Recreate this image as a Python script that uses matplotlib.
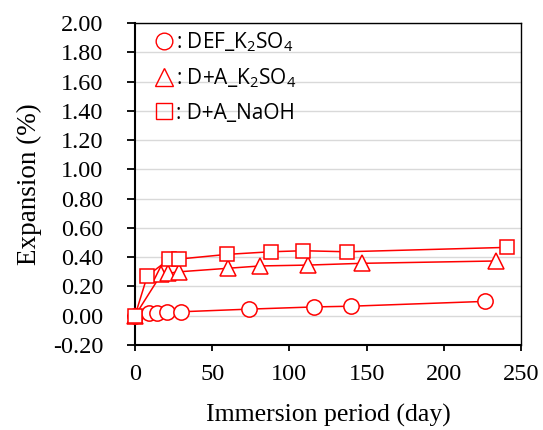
import matplotlib
matplotlib.use("Agg")
import matplotlib.pyplot as plt
from matplotlib.lines import Line2D

# Expansion measurements (%) versus immersion period (days)
days_def_k2so4 = [0, 9, 14, 21, 30, 74, 116, 140, 227]
exp_def_k2so4 = [0.00, 0.02, 0.02, 0.025, 0.027, 0.045, 0.06, 0.065, 0.098]

days_da_k2so4 = [0, 17, 21.5, 28.5, 60, 81, 112, 147, 234]
exp_da_k2so4 = [0.00, 0.283, 0.29, 0.30, 0.324, 0.34, 0.346, 0.358, 0.374]

days_da_naoh = [0, 8, 22, 28.5, 59.5, 88, 109, 137, 241]
exp_da_naoh = [0.00, 0.273, 0.385, 0.387, 0.419, 0.437, 0.444, 0.437, 0.467]

series_labels = [r": DEF_K$_2$SO$_4$", r": D+A_K$_2$SO$_4$", ": D+A_NaOH"]
y_ticks = [-0.2, 0.0, 0.2, 0.4, 0.6, 0.8, 1.0, 1.2, 1.4, 1.6, 1.8, 2.0]
x_ticks = [0, 50, 100, 150, 200, 250]

red = "#ff0000"
serif = ["Liberation Serif", "DejaVu Serif"]
plt.rcParams["mathtext.fontset"] = "custom"
plt.rcParams["mathtext.rm"] = "Open Sans"
plt.rcParams["mathtext.it"] = "Open Sans"

fig = plt.figure(figsize=(5.43, 4.30), dpi=100)
ax = fig.add_axes([0.2486, 0.1977, 0.7109, 0.7488])

style = dict(color=red, lw=1.1, mfc="white", mec=red, mew=1.1, clip_on=False)
ax.plot(days_def_k2so4, exp_def_k2so4, marker="o", ms=11, zorder=3, **style)
ax.plot(days_da_k2so4, exp_da_k2so4, marker="^", ms=11.5, zorder=3, **style)
ax.plot(days_da_naoh, exp_da_naoh, marker="s", ms=10, zorder=4, **style)

ax.set_xlim(0, 250)
ax.set_ylim(-0.2, 2.0)
ax.set_xticks(x_ticks)
ax.set_yticks(y_ticks)
ax.set_yticklabels([f"{v:.2f}" for v in y_ticks], fontfamily=serif, fontsize=17.5)
ax.set_xticklabels([str(v) for v in x_ticks], fontfamily=serif, fontsize=17.5)
ax.tick_params(axis="y", direction="out", length=6, width=1.3, pad=17)
ax.tick_params(axis="x", direction="out", length=4, width=1.3, pad=10)

ax.yaxis.grid(True, color="#d9d9d9", lw=1.0)
ax.set_axisbelow(True)
for side in ["left", "bottom"]:
    ax.spines[side].set_linewidth(1.5)
for side in ["top", "right"]:
    ax.spines[side].set_linewidth(1.0)

ax.set_xlabel("Immersion period (day)", fontfamily=serif, fontsize=18.5, labelpad=13)
ax.set_ylabel("Expansion (%)", fontfamily=serif, fontsize=19.5, labelpad=8)

handles = [
    Line2D([], [], ls="none", marker="o", ms=12, mfc="none", mec=red, mew=1.0),
    Line2D([], [], ls="none", marker="^", ms=12.5, mfc="none", mec=red, mew=1.0),
    Line2D([], [], ls="none", marker="s", ms=11, mfc="none", mec=red, mew=1.0),
]
ax.legend(handles, series_labels, loc="upper left", bbox_to_anchor=(0.0, 1.035),
          frameon=False, handlelength=1.0, handletextpad=0.05, labelspacing=0.6,
          prop={"family": ["Open Sans", "DejaVu Sans"], "size": 15})

fig.savefig("out.png", dpi=100)
